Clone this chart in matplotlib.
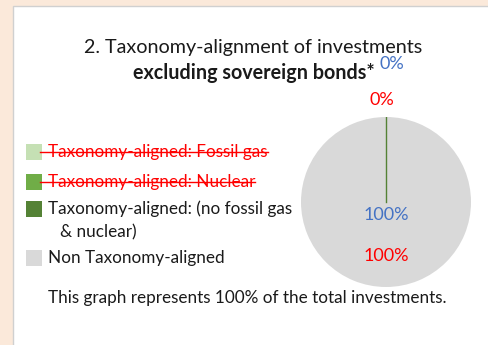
import numpy as np
import matplotlib.pyplot as plt
from matplotlib.patches import Rectangle

plt.rcParams['font.family'] = ['Lato', 'DejaVu Sans']

W, H = 488, 345

# pie data
categories = ['Taxonomy-aligned: Fossil gas', 'Taxonomy-aligned: Nuclear',
              'Taxonomy-aligned: (no fossil gas\n& nuclear)', 'Non Taxonomy-aligned']
shares = [0, 0, 0, 100]
colors = ['#C5E0B4', '#70AD47', '#548235', '#D9D9D9']
struck = [True, True, False, False]
labels_incl = ['0%', '100%']   # blue labels
labels_excl = ['0%', '100%']   # red labels

fig = plt.figure(figsize=(W / 100, H / 100), dpi=100)
fig.patch.set_facecolor('#FBE9DA')


def px(x, y):
    return x / W, 1 - y / H


# white panel
fig.patches.append(Rectangle(px(13, 346), (W - 13 + 5) / W, 340 / H,
                             transform=fig.transFigure, facecolor='white',
                             edgecolor='#D0D0D0', linewidth=1, zorder=-5))

fig.text(*px(253, 47), '2. Taxonomy-alignment of investments', ha='center', va='center',
         fontsize=14.2, color='#1a1a1a')
fig.text(*px(254, 73), 'excluding sovereign bonds*', ha='center', va='center',
         fontsize=14.2, fontweight='bold', color='#1a1a1a')

# pie
cx, cy, r = 386, 202, 85
ax = fig.add_axes([(cx - r) / W, 1 - (cy + r) / H, 2 * r / W, 2 * r / H])
ax.set_zorder(2)
wedges, _ = ax.pie(shares, colors=colors, startangle=90, counterclock=False,
                   radius=1, wedgeprops=dict(linewidth=0))
# zero-size aligned slice shows up as a thin radius line
aligned = wedges[2]
ang = np.deg2rad(aligned.theta1)
ax.plot([0, np.cos(ang)], [0, np.sin(ang)], color=colors[2], linewidth=1)
ax.set_xlim(-1, 1)
ax.set_ylim(-1, 1)
ax.axis('off')

ax.text(0.07, 1.62, labels_incl[0], color='#4472C4', ha='center', va='center', fontsize=13)
ax.text(-0.05, 1.2, labels_excl[0], color='#FF0000', ha='center', va='center', fontsize=13)
ax.text(0.0, -0.15, labels_incl[1], color='#4472C4', ha='center', va='center', fontsize=13)
ax.text(0.0, -0.63, labels_excl[1], color='#FF0000', ha='center', va='center', fontsize=13)

# legend
ys = [152, 182, 209, 258]
fig.canvas.draw()
renderer = fig.canvas.get_renderer()
for y, lab, col, s in zip(ys, categories, colors, struck):
    fig.patches.append(Rectangle(px(26, y + 8), 16 / W, 16 / H, transform=fig.transFigure,
                                 facecolor=col, edgecolor='none'))
    lines = lab.split('\n')
    t = fig.text(*px(48, y), lines[0], ha='left', va='center',
                 fontsize=12.3, color='#FF0000' if s else '#1a1a1a')
    if len(lines) > 1:
        fig.text(*px(60, y + 23), lines[1], ha='left', va='center',
                 fontsize=12.3, color='#1a1a1a')
    if s:
        bb = t.get_window_extent(renderer)
        ymid = (bb.y0 + bb.y1) / 2 / H
        fig.add_artist(plt.Line2D([40 / W, bb.x1 / W], [ymid, ymid],
                                  transform=fig.transFigure, color='#FF0000', linewidth=1))

fig.text(*px(48, 298), 'This graph represents 100% of the total investments.', ha='left',
         va='center', fontsize=12.3, color='#1a1a1a')

fig.savefig('out.png', dpi=100, facecolor=fig.get_facecolor())
